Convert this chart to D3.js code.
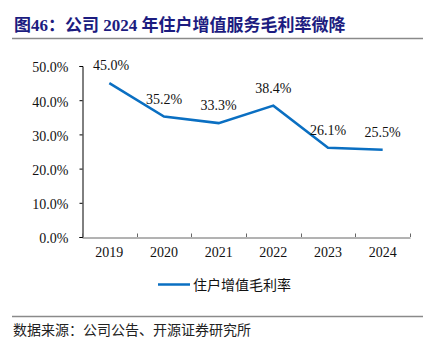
<!DOCTYPE html>
<html><head><meta charset="utf-8">
<script src="https://cdn.jsdelivr.net/npm/d3@7"></script>
<style>body{margin:0;background:#fff;}svg{display:block;}</style>
</head><body>
<svg id="c" width="431" height="351"></svg>
<script>
const categories = ["2019","2020","2021","2022","2023","2024"];
const values = [45.0, 35.2, 33.3, 38.4, 26.1, 25.5];
const yTicks = [0,10,20,30,40,50];
const seriesName = "住户增值毛利率";
const title = "图46：公司 2024 年住户增值服务毛利率微降";
const source = "数据来源：公司公告、开源证券研究所";

const svg = d3.select("#c");
const serif = "'Liberation Serif','Times New Roman',serif";
const cjk = "'Noto Sans CJK SC',sans-serif";

svg.append("text").attr("x",14).attr("y",31).attr("fill","#1c1c80")
  .attr("font-family",serif+","+cjk).attr("font-weight","bold").attr("font-size",17).text(title);
svg.append("line").attr("x1",12).attr("x2",423).attr("y1",38.5).attr("y2",38.5).attr("stroke","#8a8a8a").attr("stroke-width",1.5);
svg.append("line").attr("x1",12).attr("x2",423).attr("y1",316.5).attr("y2",316.5).attr("stroke","#8a8a8a").attr("stroke-width",1.5);
svg.append("text").attr("x",13).attr("y",335).attr("fill","#222").attr("font-family",cjk).attr("font-size",14).text(source);

const x = d3.scaleBand().domain(categories).range([82,410]);
const y = d3.scaleLinear().domain([0,50]).range([237,66]);

const ya = svg.append("g").attr("transform","translate(82.5,0)")
  .call(d3.axisLeft(y).tickValues(yTicks).tickSize(3).tickPadding(11).tickFormat(d=>d.toFixed(1)+"%"));
ya.select(".domain").attr("stroke","#000");
ya.selectAll(".tick line").attr("stroke","#000");
ya.selectAll("text").attr("font-family",serif).attr("font-size",14).attr("fill","#111").attr("dy","0.42em");

const xa = svg.append("g").attr("transform","translate(0,237.5)")
  .call(d3.axisBottom(x).tickSize(0).tickPadding(10));
xa.select(".domain").attr("stroke","#666");
xa.selectAll("text").attr("font-family",serif).attr("font-size",14).attr("fill","#111");
const edges = categories.map(c=>x(c)).concat([x.range()[1]]);
svg.append("g").selectAll("line").data(edges).join("line")
  .attr("x1",d=>Math.round(d)+0.5).attr("x2",d=>Math.round(d)+0.5).attr("y1",237).attr("y2",233.5)
  .attr("stroke","#666");

const cx = d=>x(d)+x.bandwidth()/2;
svg.append("path").datum(values)
  .attr("d",d3.line().x((v,i)=>cx(categories[i])).y(v=>y(v)))
  .attr("fill","none").attr("stroke","#0a6fc2").attr("stroke-width",2.5);
svg.append("g").selectAll("text").data(values).join("text")
  .attr("x",(v,i)=>Math.max(cx(categories[i]), 111)).attr("y",v=>y(v)-13)
  .attr("text-anchor","middle").attr("font-family",serif).attr("font-size",14).attr("fill","#111")
  .text(v=>v.toFixed(1)+"%");

svg.append("line").attr("x1",158).attr("x2",190).attr("y1",284.5).attr("y2",284.5).attr("stroke","#0a6fc2").attr("stroke-width",2.5);
svg.append("text").attr("x",193).attr("y",289.5).attr("font-family",cjk).attr("font-size",14).attr("fill","#111").text(seriesName);
</script>
</body></html>
